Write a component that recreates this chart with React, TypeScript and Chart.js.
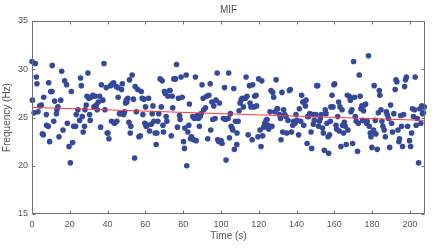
import { useEffect, useRef } from "react";
import { Chart, registerables } from "chart.js";

Chart.register(...registerables);

// ---- data (time in s, MIF in Hz) ----
const timeS: number[] = [
  0.0, 1.8, 0.2, 1.1, 2.3, 2.6, 3.2, 4.1, 4.9, 5.5, 6.0, 6.2, 7.6, 7.7, 8.6, 8.8, 9.3, 9.9, 10.6, 10.7, 11.5, 12.0, 12.9, 13.2, 13.7, 14.3, 15.2, 15.7, 16.4, 17.3, 18.3, 18.7, 19.6, 20.3, 20.8, 21.5, 22.0,
  23.1, 23.4, 24.3, 25.2, 25.7, 26.1, 26.6, 27.1, 27.8, 28.0, 28.7, 29.1, 29.6, 30.1, 30.5, 30.8, 31.4, 32.2, 32.8, 33.5, 34.0, 34.5, 35.1, 35.8, 36.3, 36.7, 37.5, 38.1, 38.6, 39.3, 39.8,
  40.2, 40.7, 41.6, 42.1, 42.5, 43.2, 43.7, 44.6, 44.9, 45.5, 45.6, 46.3, 47.0, 47.4, 47.8, 48.5, 49.0, 49.5, 49.9, 50.2, 50.7, 51.3, 51.6, 52.0, 52.3, 53.0, 53.7, 54.3, 54.6, 55.2, 56.0, 56.6, 57.3, 57.8, 58.3, 58.7, 59.2, 59.7,
  60.1, 60.4, 61.0, 61.7, 62.2, 63.1, 63.6, 64.0, 64.5, 65.2, 65.7, 66.1, 66.6, 67.1, 67.8, 68.4, 68.9, 69.3, 69.6, 70.1, 70.5, 71.0, 71.4, 71.9, 72.8, 73.1, 73.7, 74.2, 74.5, 75.1, 75.6, 75.9, 76.5, 77.0, 77.5, 78.1, 78.4, 78.9, 79.5,
  80.2, 80.7, 80.9, 81.6, 81.9, 82.5, 83.0, 83.3, 83.9, 84.4, 85.1, 85.6, 86.0, 86.5, 86.9, 87.4, 88.1, 88.6, 89.0, 89.5, 90.0, 90.6, 90.9, 91.8, 92.5, 93.0, 93.6, 94.3, 94.6, 95.2, 95.7, 96.2, 96.9, 97.4, 98.0, 98.3, 98.9, 99.2,
  100.1, 100.6, 101.3, 101.9, 102.4, 102.7, 103.3, 103.8, 104.1, 104.5, 105.0, 105.4, 105.9, 106.3, 106.8, 107.1, 107.7, 108.4, 108.5, 109.1, 109.6, 110.1, 110.7, 111.2, 111.9, 112.4, 113.0, 113.3, 113.8, 114.4, 115.1, 115.4, 115.9, 116.5, 116.8, 117.5, 117.9, 118.6, 118.9, 119.6,
  120.0, 120.7, 121.2, 121.6, 122.1, 122.6, 123.2, 123.9, 124.4, 124.9, 125.3, 126.0, 126.5, 127.0, 127.4, 127.9, 128.5, 129.2, 129.7, 130.0, 130.9, 131.5, 131.8, 132.3, 132.7, 133.2, 133.7, 134.4, 134.8, 135.5, 136.2, 136.7, 137.3, 138.0, 138.5, 139.2, 139.7,
  140.3, 141.1, 141.5, 142.2, 142.7, 143.3, 143.8, 144.7, 145.0, 145.6, 145.9, 146.4, 147.0, 147.7, 148.0, 148.5, 148.9, 149.4, 150.3, 150.7, 151.2, 151.7, 152.1, 152.6, 153.1, 153.8, 154.2, 154.7, 155.2, 155.6, 156.1, 156.7, 157.0, 157.5, 157.9, 158.2, 158.8, 159.3, 159.8,
  160.2, 160.9, 161.2, 161.8, 162.3, 162.6, 163.0, 163.5, 164.1, 164.4, 164.9, 165.3, 165.8, 166.3, 166.9, 167.2, 167.9, 168.5, 168.8, 169.3, 169.7, 170.2, 170.7, 171.1, 171.6, 172.3, 172.7, 173.2, 173.7, 174.1, 174.6, 175.0, 175.5, 176.0, 176.6, 177.1, 177.4, 178.1, 178.5, 179.0, 179.4,
  179.9, 180.3, 180.8, 181.1, 181.7, 182.0, 182.7, 183.3, 183.8, 184.1, 184.7, 185.2, 185.7, 186.4, 187.0, 187.5, 188.0, 188.7, 189.3, 189.8, 190.3, 190.8, 191.5, 192.2, 192.6, 193.1, 193.7, 194.2, 194.5, 195.1, 195.6, 196.1, 196.7, 197.2, 197.7, 198.2, 198.8, 199.8, 200.4, 200.9, 201.4, 201.9, 202.5, 202.8, 203.3, 203.9, 204.6, 205.3, 205.8, 206.3, 206.7, 207.2, 207.6,
];

const mifHz: number[] = [
  30.8, 30.6, 26.8, 25.5, 29.2, 28.5, 25.6, 26.2, 26.3, 23.3, 23.2, 27.1, 25.3, 24.2, 24.1, 28.6, 22.5, 27.7, 27.7, 30.4, 24.6, 26.7, 25.4, 25.8, 26.1, 23.0, 26.8, 29.8, 23.7, 28.8, 28.4, 24.4, 22.0, 20.3, 27.7, 22.4, 24.1,
  24.1, 25.3, 25.8, 24.7, 29.1, 28.3, 25.1, 23.5, 24.1, 25.8, 26.3, 27.2, 29.6, 27.0, 25.3, 24.7, 27.1, 27.3, 26.1, 27.2, 26.3, 25.8, 26.6, 27.2, 24.0, 28.4, 26.8, 30.6, 25.8, 28.1, 23.4,
  23.4, 22.8, 28.3, 24.6, 28.5, 28.6, 24.4, 28.2, 24.6, 28.1, 27.1, 25.4, 25.4, 27.9, 28.5, 25.3, 25.6, 26.5, 26.8, 26.6, 27.0, 24.5, 28.9, 23.4, 24.1, 29.4, 26.9, 20.8, 28.2, 25.6, 27.9, 23.0, 23.1, 27.7, 27.0, 25.3, 26.9, 24.4,
  26.1, 24.1, 24.2, 27.0, 23.6, 24.3, 25.4, 26.2, 24.6, 23.4, 22.2, 23.4, 24.6, 25.4, 29.0, 26.1, 28.8, 24.2, 23.5, 27.7, 27.5, 25.1, 24.6, 27.2, 27.8, 27.8, 23.1, 27.2, 26.0, 29.0, 29.0, 29.0, 30.5, 24.0, 27.0, 25.2, 24.8, 29.2, 27.1,
  22.5, 21.8, 23.9, 29.4, 20.0, 23.5, 24.2, 26.4, 22.8, 23.0, 25.1, 22.7, 24.9, 29.2, 22.6, 25.2, 24.9, 24.1, 25.1, 25.4, 28.4, 27.0, 25.8, 26.0, 27.2, 22.8, 27.3, 28.5, 23.7, 26.6, 24.8, 26.2, 24.9, 26.8, 29.6, 22.7, 22.5, 26.5,
  22.6, 22.3, 24.9, 28.1, 24.8, 20.6, 24.9, 24.9, 29.6, 22.9, 25.4, 24.1, 23.9, 23.7, 28.0, 21.7, 24.6, 22.2, 23.4, 24.6, 25.7, 26.5, 26.8, 27.0, 26.1, 27.0, 27.0, 29.2, 27.2, 23.2, 28.3, 26.5, 26.1, 22.7, 28.4, 26.1, 27.2, 27.3, 26.2, 23.0,
  29.0, 23.7, 22.0, 28.8, 23.1, 24.0, 24.4, 24.7, 24.8, 24.2, 23.8, 25.6, 27.8, 24.1, 27.6, 27.1, 25.6, 28.9, 25.9, 25.9, 25.3, 24.9, 22.7, 27.6, 23.5, 25.8, 25.3, 25.1, 23.4, 24.7, 27.8, 27.9, 23.5, 24.2, 24.6, 24.4, 25.3,
  24.7, 23.2, 25.9, 24.6, 27.3, 26.6, 24.2, 26.2, 26.8, 22.3, 25.1, 25.1, 25.4, 23.5, 21.8, 25.3, 24.3, 24.7, 25.3, 28.3, 28.3, 24.1, 24.6, 24.9, 25.3, 23.9, 23.4, 21.6, 25.8, 25.4, 24.4, 23.0, 21.3, 23.2, 24.6, 26.1, 27.3, 26.1, 28.4,
  28.5, 24.2, 23.8, 25.1, 26.6, 23.6, 26.1, 22.0, 25.8, 24.2, 23.4, 24.5, 24.1, 22.2, 27.3, 23.7, 27.2, 26.8, 25.6, 25.8, 22.3, 30.8, 27.1, 25.1, 24.6, 21.5, 24.4, 29.4, 27.2, 25.9, 26.2, 24.7, 25.7, 26.3, 26.4, 24.4, 24.6, 31.4, 24.1, 23.4, 23.0,
  21.9, 23.5, 23.7, 28.3, 24.7, 23.3, 21.7, 25.5, 27.8, 27.3, 25.8, 24.6, 24.1, 23.7, 23.0, 25.6, 25.3, 24.9, 21.9, 26.3, 24.4, 23.5, 25.4, 27.9, 28.9, 28.7, 23.7, 22.5, 22.8, 25.2, 24.1, 22.0, 25.3, 28.2, 28.9, 29.2, 24.1, 22.6, 22.0, 23.4, 25.9, 25.1, 25.8, 29.2, 24.2, 24.9, 20.3, 25.9, 24.4, 26.2, 25.4, 25.5, 26.1,
];

// linear trend (red line)
const trendTime: number[] = [0, 208];
const trendHz: number[] = [26.05, 24.7];

const xTickValues: number[] = [0, 20, 40, 60, 80, 100, 120, 140, 160, 180, 200];
const yTickValues: number[] = [15, 20, 25, 30, 35];

const chartTitle = "MIF";
const xAxisLabel = "Time (s)";
const yAxisLabel = "Frequency (Hz)";

const FONT = "Arial, 'Liberation Sans', Helvetica, sans-serif";
const TEXT = "#555555";
const AXIS = "#707070";

export default function App() {
  const ref = useRef<HTMLCanvasElement | null>(null);

  useEffect(() => {
    document.body.style.margin = "0";
    const canvas = ref.current;
    if (!canvas) return;

    const n = Math.min(timeS.length, mifHz.length);
    const points = [] as { x: number; y: number }[];
    for (let i = 0; i < n; i++) points.push({ x: timeS[i], y: mifHz[i] });
    const trend = trendTime.map((t, i) => ({ x: t, y: trendHz[i] }));

    const boxPlugin = {
      id: "matlabBox",
      afterDraw(chart: any) {
        const { ctx, chartArea } = chart;
        const xs = chart.scales.x;
        const ys = chart.scales.y;
        const l = Math.round(chartArea.left) + 0.5;
        const r = Math.round(chartArea.right) - 0.5;
        const t = Math.round(chartArea.top) + 0.5;
        const b = Math.round(chartArea.bottom) - 0.5;
        ctx.save();
        ctx.strokeStyle = AXIS;
        ctx.lineWidth = 1;
        ctx.beginPath();
        ctx.rect(l, t, r - l, b - t);
        const tl = 3;
        xTickValues.forEach((v) => {
          const px = Math.round(xs.getPixelForValue(v)) + 0.5;
          ctx.moveTo(px, b);
          ctx.lineTo(px, b - tl);
          ctx.moveTo(px, t);
          ctx.lineTo(px, t + tl);
        });
        yTickValues.forEach((v) => {
          const py = Math.round(ys.getPixelForValue(v)) + 0.5;
          ctx.moveTo(l, py);
          ctx.lineTo(l + tl, py);
          ctx.moveTo(r, py);
          ctx.lineTo(r - tl, py);
        });
        ctx.stroke();
        ctx.restore();
      },
    };

    const chart = new Chart(canvas, {
      type: "scatter",
      data: {
        datasets: [
          {
            type: "line",
            data: trend,
            borderColor: "#ff3b3b",
            borderWidth: 1,
            pointRadius: 0,
            fill: false,
            order: 0,
          } as any,
          {
            type: "scatter",
            data: points,
            backgroundColor: "#34489c",
            borderWidth: 0,
            pointRadius: 2.8,
            pointHoverRadius: 2.8,
            clip: false,
            order: 1,
          } as any,
        ],
      },
      options: {
        responsive: false,
        animation: false,
        events: [],
        layout: { padding: { top: 0, right: 10, bottom: 0, left: 0 } },
        plugins: {
          legend: { display: false },
          tooltip: { enabled: false },
          title: {
            display: true,
            text: chartTitle,
            fullSize: false,
            color: TEXT,
            font: { family: FONT, size: 10, weight: "normal" },
            padding: { top: 4, bottom: 5 },
          },
        },
        scales: {
          x: {
            type: "linear",
            min: 0,
            max: 208,
            afterBuildTicks: (scale: any) => {
              scale.ticks = xTickValues.map((v) => ({ value: v }));
            },
            afterFit: (scale: any) => {
              scale.height = 35;
            },
            grid: { display: false, drawTicks: false },
            border: { display: false },
            ticks: {
              color: TEXT,
              font: { family: FONT, size: 9 },
              padding: 5,
              maxRotation: 0,
              autoSkip: false,
            },
            title: {
              display: true,
              text: xAxisLabel,
              color: TEXT,
              font: { family: FONT, size: 10 },
              padding: { top: 0, bottom: 7 },
            },
          },
          y: {
            type: "linear",
            min: 15,
            max: 35,
            afterBuildTicks: (scale: any) => {
              scale.ticks = yTickValues.map((v) => ({ value: v }));
            },
            afterFit: (scale: any) => {
              scale.width = 32;
            },
            grid: { display: false, drawTicks: false },
            border: { display: false },
            ticks: {
              color: TEXT,
              font: { family: FONT, size: 9 },
              padding: 4,
              autoSkip: false,
            },
            title: {
              display: true,
              text: yAxisLabel,
              color: TEXT,
              font: { family: FONT, size: 10 },
              padding: { top: 1, bottom: 0 },
            },
          },
        },
      },
      plugins: [boxPlugin],
    } as any);

    return () => chart.destroy();
  }, []);

  return (
    <div style={{ width: 435, height: 249 }}>
      <canvas ref={ref} width={435} height={249} style={{ display: "block" }} />
    </div>
  );
}
